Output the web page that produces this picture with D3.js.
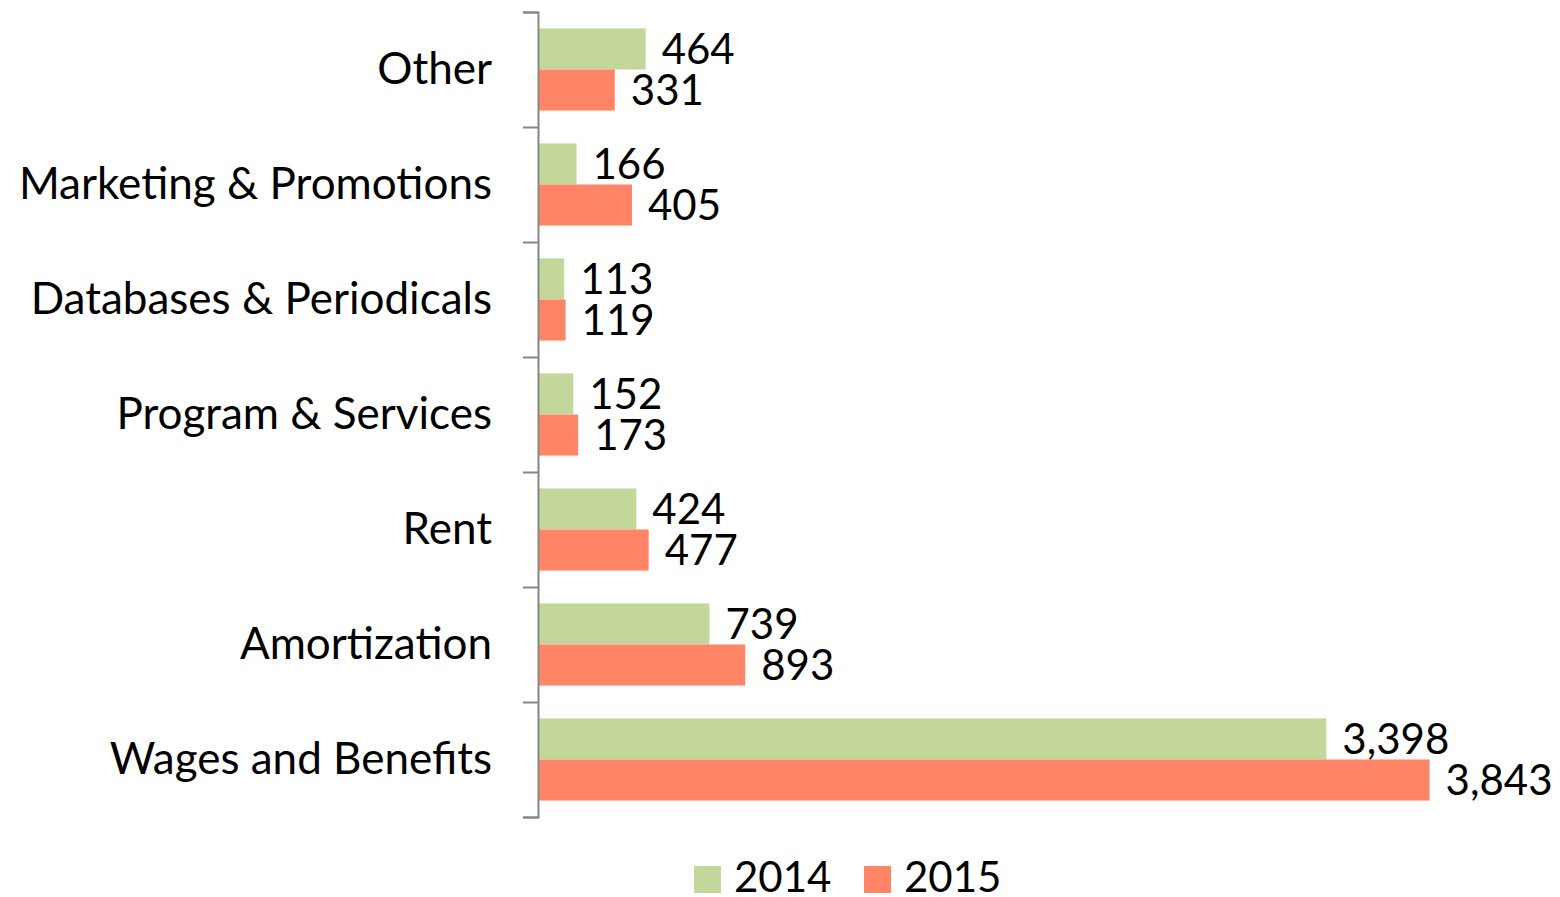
<!DOCTYPE html>
<html>
<head>
<meta charset="utf-8">
<script src="https://cdn.jsdelivr.net/npm/d3@7"></script>
<style>
  body { margin: 0; background: #fff; }
  text { font-family: Lato, "Open Sans", sans-serif; fill: #000; }
</style>
</head>
<body>
<script>
const categories = [
  "Other",
  "Marketing & Promotions",
  "Databases & Periodicals",
  "Program & Services",
  "Rent",
  "Amortization",
  "Wages and Benefits",
];
const series = ["2014", "2015"];
const values2014 = [464, 166, 113, 152, 424, 739, 3398];
const values2015 = [331, 405, 119, 173, 477, 893, 3843];
const colors = ["#c4d79b", "#ff8566"];

const width = 1560;
const height = 897;
const axisX = 538;
const plotTop = 12;
const plotBottom = 817;

const svg = d3
  .select("body")
  .append("svg")
  .attr("width", width)
  .attr("height", height);

const x = d3.scaleLinear().domain([0, 4000]).range([axisX, 1466]);

const y0 = d3.scaleBand().domain(categories).range([plotTop, plotBottom]);

const y1 = d3
  .scaleBand()
  .domain(series)
  .range([0, y0.bandwidth()])
  .paddingInner(0)
  .paddingOuter(0.4);

const rows = categories.map((c, i) => ({
  cat: c,
  vals: [
    { key: "2014", v: values2014[i] },
    { key: "2015", v: values2015[i] },
  ],
}));

const fmt = d3.format(",");

const group = svg
  .selectAll("g.cat")
  .data(rows)
  .join("g")
  .attr("class", "cat")
  .attr("transform", (d) => `translate(0,${y0(d.cat)})`);

group
  .selectAll("rect")
  .data((d) => d.vals)
  .join("rect")
  .attr("x", x(0))
  .attr("y", (d) => y1(d.key))
  .attr("width", (d) => x(d.v) - x(0))
  .attr("height", y1.bandwidth())
  .attr("fill", (d, i) => colors[i]);

group
  .selectAll("text.val")
  .data((d) => d.vals)
  .join("text")
  .attr("class", "val")
  .attr("x", (d) => x(d.v) + 16)
  .attr("y", (d) => y1(d.key) + y1.bandwidth() / 2)
  .attr("dy", "0.36em")
  .attr("font-size", 42)
  .text((d) => fmt(d.v));

// category labels
group
  .append("text")
  .attr("x", 492)
  .attr("y", y0.bandwidth() / 2)
  .attr("dy", "0.34em")
  .attr("text-anchor", "end")
  .attr("font-size", 44)
  .text((d) => d.cat);

// axis with ticks at band boundaries
const edge = d3
  .scaleLinear()
  .domain([0, categories.length])
  .range([plotBottom, plotTop]);

const axis = svg
  .append("g")
  .attr("transform", `translate(${axisX},0)`)
  .call(
    d3
      .axisLeft(edge)
      .ticks(categories.length)
      .tickSize(15)
      .tickSizeOuter(15)
      .tickFormat("")
  );
axis.selectAll("path, line").attr("stroke", "#868686").attr("stroke-width", 2);

// legend
const legendX = [694, 864];
const legend = svg
  .selectAll("g.legend")
  .data(series)
  .join("g")
  .attr("class", "legend")
  .attr("transform", (d, i) => `translate(${legendX[i]},866)`);

legend
  .append("rect")
  .attr("width", 27)
  .attr("height", 27)
  .attr("fill", (d, i) => colors[i]);

legend
  .append("text")
  .attr("x", 40)
  .attr("y", 12)
  .attr("dy", "0.34em")
  .attr("font-size", 42)
  .text((d) => d);
</script>
</body>
</html>
